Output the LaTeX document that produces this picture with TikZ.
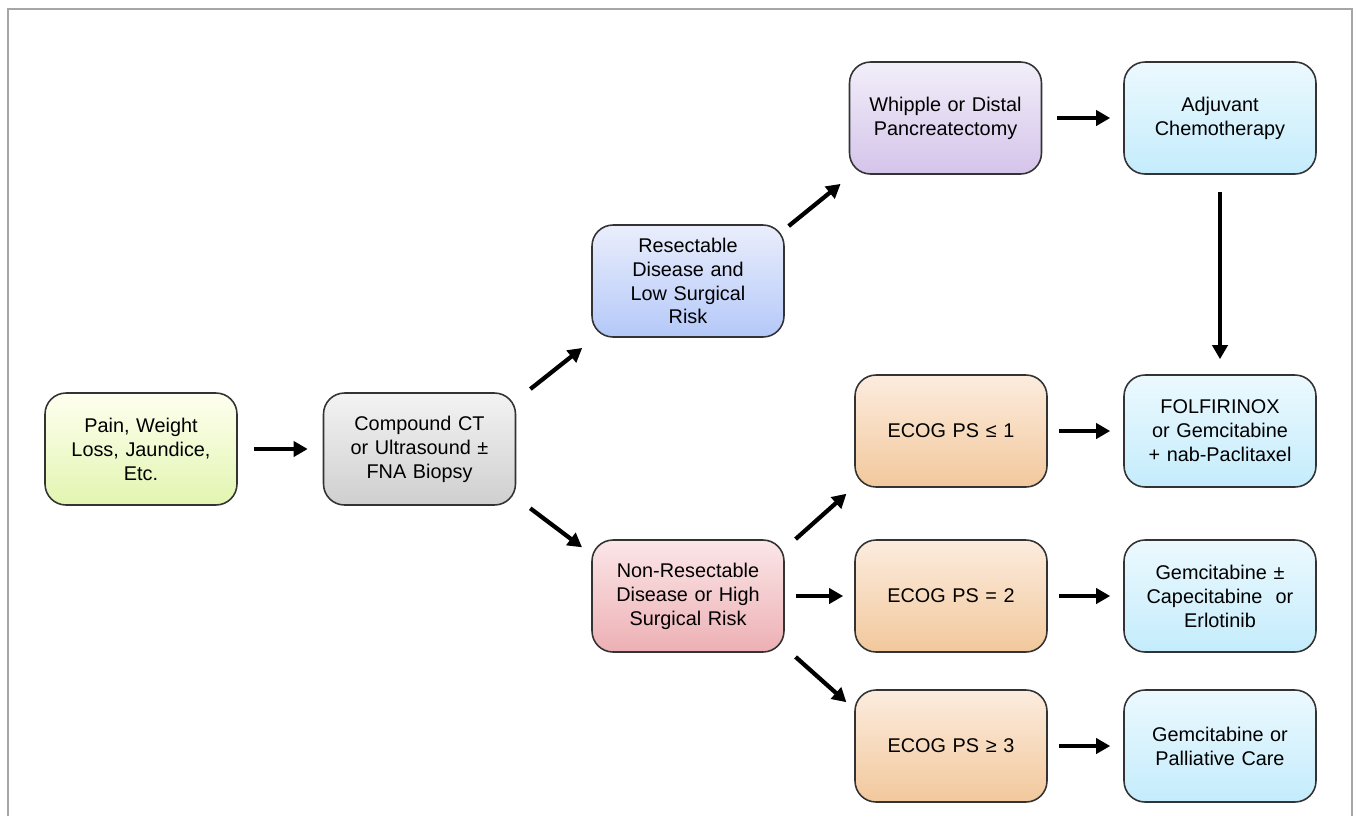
\documentclass[tikz,border=0pt]{standalone}
\usepackage{fontspec}
\setmainfont{Liberation Sans}
\usetikzlibrary{arrows.meta}

\definecolor{frameGray}{HTML}{A6A6A6}
\definecolor{boxLine}{HTML}{333333}
\tikzset{
  box/.style={draw=boxLine, line width=0.9pt, rounded corners=0.42cm,
    minimum width=3.84cm, minimum height=2.24cm, text width=3.5cm,
    align=center, inner sep=2pt,
    font=\fontsize{11.3}{13.6}\selectfont},
  symptom/.style={box, top color=green!4!yellow!6, bottom color={rgb,255:red,226;green,245;blue,176}},
  imaging/.style={box, top color={rgb,255:red,243;green,243;blue,243}, bottom color={rgb,255:red,207;green,207;blue,207}},
  resect/.style={box, top color={rgb,255:red,234;green,238;blue,252}, bottom color={rgb,255:red,180;green,200;blue,248}},
  nonresect/.style={box, top color={rgb,255:red,251;green,230;blue,232}, bottom color={rgb,255:red,237;green,176;blue,180}},
  surgery/.style={box, top color={rgb,255:red,242;green,238;blue,249}, bottom color={rgb,255:red,212;green,196;blue,234}},
  ecog/.style={box, top color={rgb,255:red,252;green,236;blue,222}, bottom color={rgb,255:red,242;green,200;blue,156}},
  therapy/.style={box, top color={rgb,255:red,236;green,249;blue,254}, bottom color={rgb,255:red,196;green,236;blue,252}},
  flow/.style={-{Triangle[length=0.28cm,width=0.3cm]}, line width=0.085cm, black}
}

\begin{document}
\begin{tikzpicture}[x=0.02cm,y=-0.02cm]
\useasboundingbox (0,0) rectangle (1356,816);
\draw[frameGray, line width=0.05cm] (8,816) -- (8,9) -- (1352,9) -- (1352,816);

\node[symptom] (pain) at (141,449) {Pain, Weight\\Loss, Jaundice,\\Etc.};
\node[imaging] (scan) at (419.5,449) {Compound CT\\or Ultrasound ±\\FNA Biopsy};
\node[resect] (resectable) at (688,281) {Resectable\\Disease and\\Low Surgical\\Risk};
\node[nonresect] (nonresectable) at (688,596) {Non-Resectable\\Disease or High\\Surgical Risk};
\node[surgery] (whipple) at (945.5,118) {Whipple or Distal\\Pancreatectomy};
\node[therapy] (adjuvant) at (1220,118) {Adjuvant\\Chemotherapy};
\node[ecog] (ecogOne) at (951,431) {ECOG PS ≤ 1};
\node[therapy] (folfirinox) at (1220,431) {FOLFIRINOX\\or Gemcitabine\\+ nab-Paclitaxel};
\node[ecog] (ecogTwo) at (951,596) {ECOG PS = 2};
\node[therapy] (gemcape) at (1220,596) {Gemcitabine ±\\Capecitabine~ or\\Erlotinib};
\node[ecog] (ecogThree) at (951,746) {ECOG PS ≥ 3};
\node[therapy] (palliative) at (1220,746) {Gemcitabine or\\Palliative Care};

\draw[flow, shorten <=0.32cm, shorten >=0.3cm] (pain.east) -- (scan.west);
\draw[flow, shorten <=0.36cm, shorten >=0.23cm] ([yshift=-0.16cm]scan.north east) -- ([yshift=-0.06cm]resectable.south west);
\draw[flow, shorten <=0.35cm, shorten >=0.23cm] ([yshift=0.16cm]scan.south east) -- ([yshift=-0.3cm]nonresectable.north west);
\draw[flow, shorten <=0.1cm, shorten >=0.21cm] ([yshift=-0.1cm]resectable.north east) -- ([yshift=-0.05cm]whipple.south west);
\draw[flow, shorten <=0.3cm, shorten >=0.26cm] (whipple.east) -- (adjuvant.west);
\draw[flow, shorten <=0.34cm, shorten >=0.3cm] (adjuvant.south) -- (folfirinox.north);
\draw[flow, shorten <=0.29cm, shorten >=0.21cm] ([yshift=-0.19cm]nonresectable.north east) -- ([yshift=0.02cm]ecogOne.south west);
\draw[flow, shorten <=0.22cm, shorten >=0.22cm] (nonresectable.east) -- (ecogTwo.west);
\draw[flow, shorten <=0.29cm, shorten >=0.21cm] ([yshift=0.11cm]nonresectable.south east) -- ([yshift=-0.4cm]ecogThree.north west);
\draw[flow, shorten <=0.22cm, shorten >=0.26cm] (ecogOne.east) -- (folfirinox.west);
\draw[flow, shorten <=0.22cm, shorten >=0.26cm] (ecogTwo.east) -- (gemcape.west);
\draw[flow, shorten <=0.22cm, shorten >=0.26cm] (ecogThree.east) -- (palliative.west);
\end{tikzpicture}
\end{document}
